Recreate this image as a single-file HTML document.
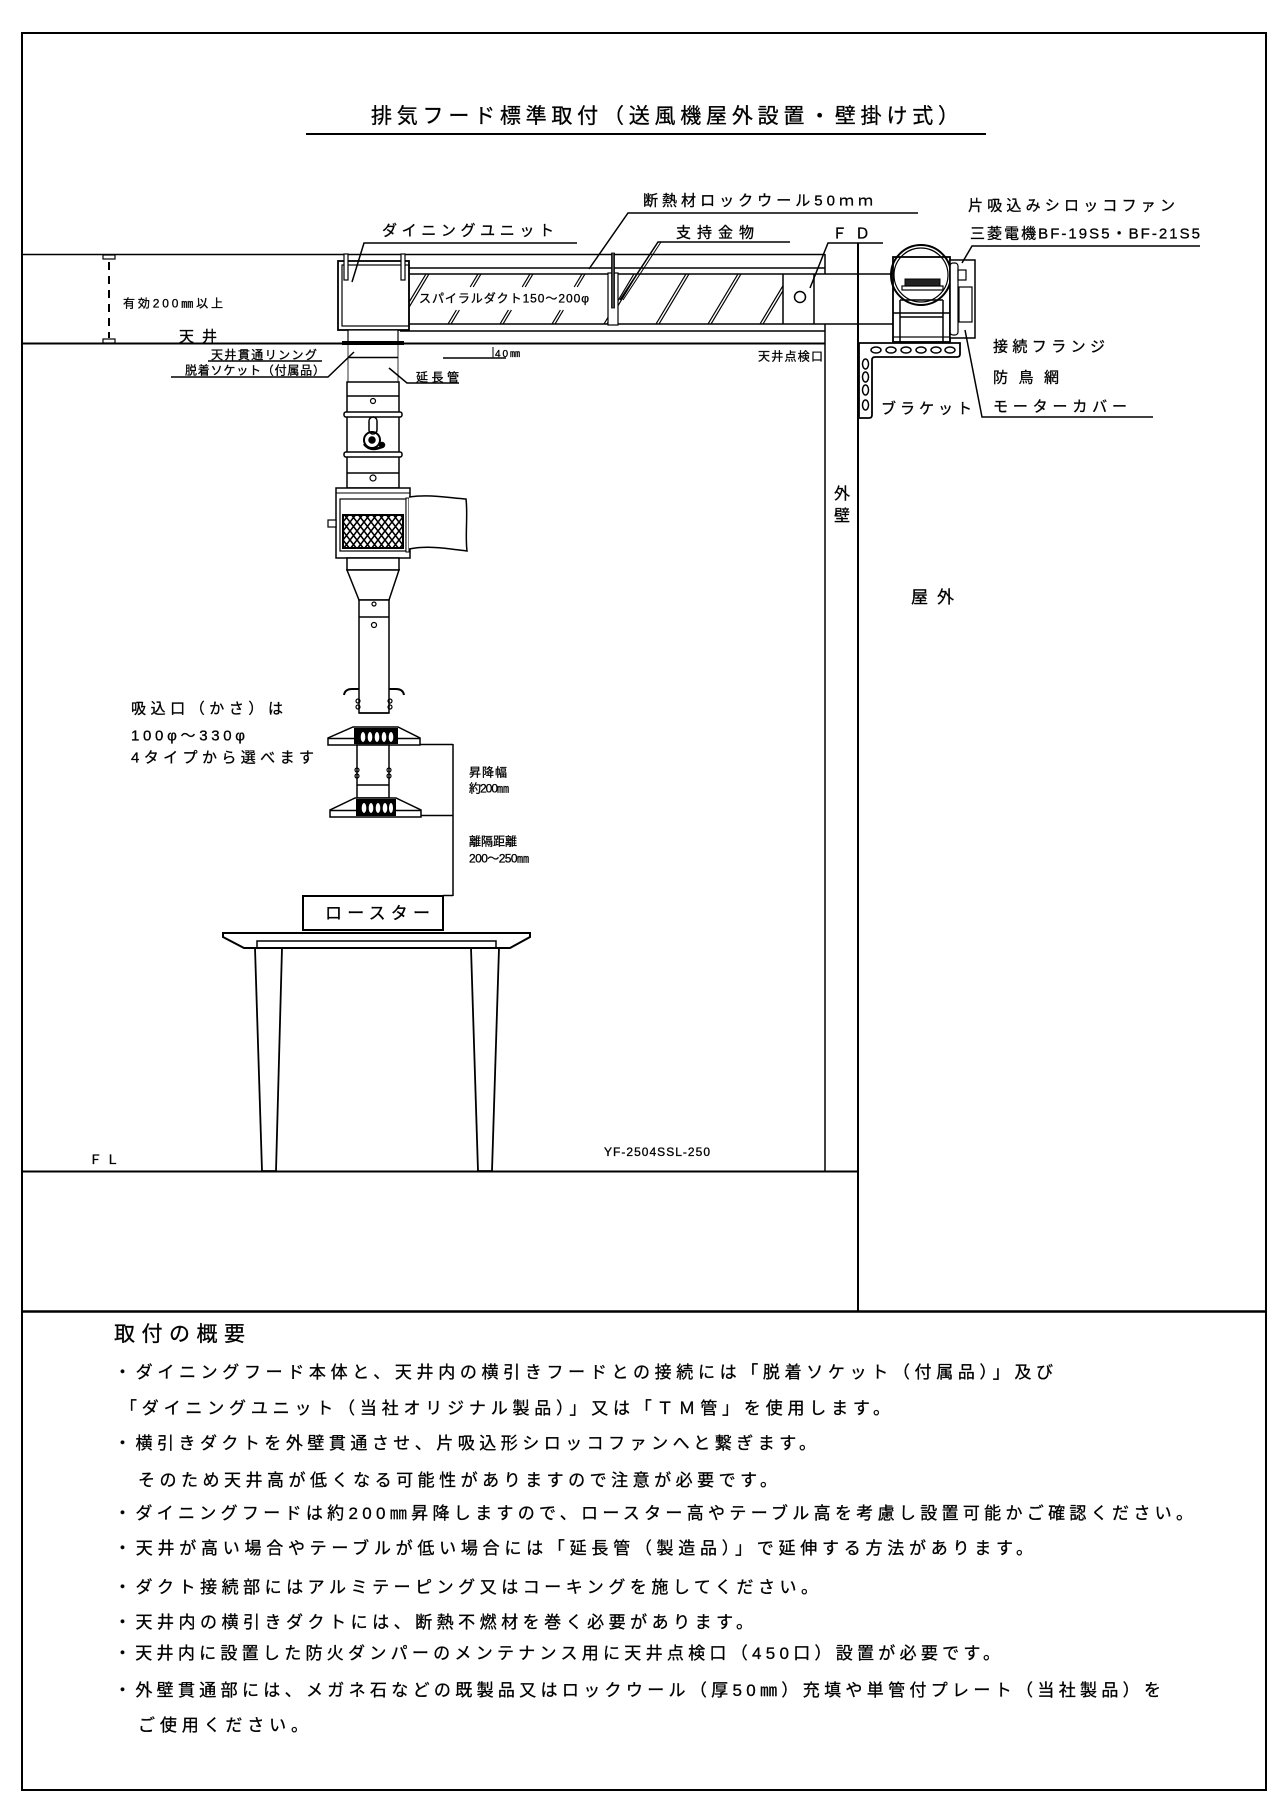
<!DOCTYPE html>
<html><head><meta charset="utf-8"><style>
html,body{margin:0;padding:0;background:#fff;}
svg{display:block;}
text{font-family:"Liberation Sans","Noto Sans CJK JP",sans-serif;fill:#000;stroke:#000;stroke-width:0.3;}
</style></head><body>
<svg width="1280" height="1812" viewBox="0 0 1280 1812" xmlns="http://www.w3.org/2000/svg">
<defs>
<pattern id="mesh" width="7" height="9" patternUnits="userSpaceOnUse"><rect width="7" height="9" fill="#fff"/><path d="M0,0 L7,9 M7,0 L0,9 M-3.5,4.5 L0,9 M3.5,-4.5 L10.5,4.5 M0,-4.5 L-3.5,0" stroke="#000" stroke-width="1.6"/></pattern>
<clipPath id="duct"><rect x="409" y="274" width="374" height="50"/></clipPath>
</defs>
<rect width="1280" height="1812" fill="#fff"/>
<g stroke="#000" fill="none" stroke-width="1.5">
<!-- frame -->
<rect x="22" y="33" width="1244" height="1757" stroke-width="2"/>
<line x1="306" y1="134" x2="986" y2="134" stroke-width="2"/>
<!-- slab & ceiling -->
<line x1="22" y1="254.5" x2="825" y2="254.5"/>
<line x1="22" y1="343.5" x2="825" y2="343.5" stroke-width="2"/>
<line x1="109" y1="262" x2="109" y2="338" stroke-dasharray="8,6" stroke-width="2"/>
<rect x="103" y="255" width="12" height="4" stroke-width="1.2"/>
<rect x="103" y="339" width="12" height="4" stroke-width="1.2"/>
<!-- wall -->
<line x1="825" y1="254" x2="825" y2="274"/>
<line x1="825" y1="324" x2="825" y2="1171"/>
<line x1="858" y1="243" x2="858" y2="1311" stroke-width="2"/>
<!-- duct -->
<line x1="409" y1="268" x2="825" y2="268"/>
<line x1="409" y1="274" x2="893" y2="274"/>
<line x1="409" y1="324" x2="893" y2="324"/>
<line x1="400" y1="331" x2="825" y2="331"/>
<line x1="783" y1="274" x2="783" y2="324"/>
<line x1="814" y1="274" x2="814" y2="324"/>
<circle cx="800" cy="297" r="5.5"/>
<g clip-path="url(#duct)" stroke-width="1.2">
<line x1="396" y1="324" x2="426" y2="274"/><line x1="399" y1="324" x2="429" y2="274"/>
<line x1="656" y1="324" x2="686" y2="274"/><line x1="659" y1="324" x2="689" y2="274"/>
<line x1="708" y1="324" x2="738" y2="274"/><line x1="711" y1="324" x2="741" y2="274"/>
<line x1="760" y1="324" x2="790" y2="274"/><line x1="763" y1="324" x2="793" y2="274"/>
<line x1="604" y1="324" x2="634" y2="274"/><line x1="607" y1="324" x2="637" y2="274"/>
<line x1="448" y1="324" x2="456.4" y2="310"/><line x1="451" y1="324" x2="459.4" y2="310"/>
<line x1="470.2" y1="287" x2="478" y2="274"/><line x1="473.2" y1="287" x2="481" y2="274"/>
<line x1="500" y1="324" x2="508.4" y2="310"/><line x1="503" y1="324" x2="511.4" y2="310"/>
<line x1="522.2" y1="287" x2="530" y2="274"/><line x1="525.2" y1="287" x2="533" y2="274"/>
<line x1="552" y1="324" x2="560.4" y2="310"/><line x1="555" y1="324" x2="563.4" y2="310"/>
<line x1="574.2" y1="287" x2="582" y2="274"/><line x1="577.2" y1="287" x2="585" y2="274"/>
</g>
<!-- support -->
<rect x="608" y="273" width="10" height="52" fill="#fff" stroke-width="1.2"/>
<rect x="611.5" y="253" width="3" height="55" fill="#444" stroke-width="0.8"/>
<!-- dining unit -->
<rect x="338" y="261" width="71" height="69" fill="#fff" stroke-width="1.8"/>
<rect x="342" y="265" width="67" height="61" stroke-width="1.2"/>
<rect x="344" y="254" width="4" height="26" fill="#fff" stroke-width="1.2"/>
<rect x="401" y="254" width="4" height="26" fill="#fff" stroke-width="1.2"/>
<rect x="348" y="330" width="50" height="12" fill="#fff" stroke-width="1.2"/>
<rect x="342" y="341" width="62" height="4" fill="#000" stroke-width="0"/>
<!-- column -->
<line x1="348" y1="345" x2="348" y2="382" stroke-width="0.8"/>
<line x1="398" y1="345" x2="398" y2="382" stroke-width="0.8"/>
<line x1="348" y1="357.5" x2="398" y2="357.5"/>
<rect x="347" y="382" width="52" height="106" fill="#fff"/>
<line x1="347" y1="396" x2="399" y2="396"/>
<circle cx="373" cy="401" r="2.5" stroke-width="1.2"/>
<rect x="344" y="412" width="58" height="5" rx="2" fill="#fff"/>
<rect x="344" y="452" width="58" height="5" rx="2" fill="#fff"/>
<line x1="347" y1="473" x2="399" y2="473"/>
<circle cx="373" cy="478" r="3" stroke-width="1.2"/>
<rect x="369" y="417" width="8" height="17" rx="4" stroke-width="1.5"/>
<circle cx="372" cy="440" r="8" stroke-width="2"/>
<circle cx="372" cy="440" r="3" fill="#000"/>
<path d="M364,444 Q370,452 382,447" stroke-width="2.5"/>
<circle cx="382" cy="445" r="2.5" fill="#000"/>
<!-- filter box -->
<rect x="336" y="488" width="74" height="70" fill="#fff"/>
<line x1="336" y1="493" x2="410" y2="493" stroke-width="1"/>
<rect x="340" y="499" width="66" height="52" stroke-width="1.2"/>
<rect x="343" y="515" width="60" height="33" fill="url(#mesh)" stroke-width="2"/>
<rect x="406" y="498" width="3" height="54" fill="#fff" stroke-width="1"/>
<rect x="328" y="520" width="8" height="7" fill="#fff" stroke-width="1.2"/>
<path d="M409,497 C430,494 450,498 466,499 C468,515 465,535 467,551 C450,549 430,545 409,549" fill="#fff"/>
<!-- lower pipe -->
<rect x="347" y="558" width="52" height="12" fill="#fff"/>
<path d="M347,570 L399,570 L389,600 L359,600 Z" fill="#fff"/>
<rect x="359" y="600" width="30" height="113" fill="#fff"/>
<line x1="359" y1="617" x2="389" y2="617"/>
<circle cx="374" cy="604" r="2" stroke-width="1.2"/>
<circle cx="374" cy="625" r="2.5" stroke-width="1.2"/>
<path d="M344,695 Q345,689 352,689 L359,689" stroke-width="2"/>
<path d="M389,689 L396,689 Q403,689 404,695" stroke-width="2"/>
<circle cx="358" cy="701" r="2" stroke-width="1.2"/><circle cx="358" cy="707" r="2" stroke-width="1.2"/>
<circle cx="390" cy="701" r="2" stroke-width="1.2"/><circle cx="390" cy="707" r="2" stroke-width="1.2"/>
<line x1="359" y1="713" x2="389" y2="713"/>
<!-- hood 1 -->
<path d="M353,727 L398,727 L420,738 L420,745 L328,745 L328,738 Z" fill="#fff"/>
<line x1="328" y1="738.5" x2="420" y2="738.5"/>
<rect x="354" y="728" width="44" height="16" fill="#000" stroke-width="0"/>
<g fill="#fff" stroke-width="0"><ellipse cx="363" cy="737" rx="2.3" ry="5"/><ellipse cx="370" cy="737" rx="2.3" ry="5"/><ellipse cx="377" cy="737" rx="2.3" ry="5"/><ellipse cx="384" cy="737" rx="2.3" ry="5"/><ellipse cx="391" cy="737" rx="2.3" ry="5"/></g>
<!-- pipe 2 -->
<rect x="357" y="745" width="32" height="53" fill="#fff"/>
<line x1="357" y1="785" x2="389" y2="785"/>
<circle cx="357" cy="770" r="2" stroke-width="1.2"/><circle cx="357" cy="776" r="2" stroke-width="1.2"/>
<circle cx="389" cy="770" r="2" stroke-width="1.2"/><circle cx="389" cy="776" r="2" stroke-width="1.2"/>
<!-- hood 2 -->
<path d="M355,798 L396,798 L421,810 L421,817 L330,817 L330,810 Z" fill="#fff"/>
<line x1="330" y1="810.5" x2="421" y2="810.5"/>
<rect x="356" y="799" width="40" height="17" fill="#000" stroke-width="0"/>
<g fill="#fff" stroke-width="0"><ellipse cx="364" cy="808" rx="2.3" ry="5"/><ellipse cx="371" cy="808" rx="2.3" ry="5"/><ellipse cx="378" cy="808" rx="2.3" ry="5"/><ellipse cx="385" cy="808" rx="2.3" ry="5"/><ellipse cx="391" cy="808" rx="2" ry="5"/></g>
<!-- dimension -->
<line x1="420" y1="744.5" x2="453" y2="744.5"/>
<line x1="421" y1="815.5" x2="453" y2="815.5"/>
<line x1="453" y1="744" x2="453" y2="896"/>
<line x1="443" y1="895.5" x2="453" y2="895.5"/>
<!-- roaster & table -->
<rect x="303" y="896" width="140" height="34" stroke-width="2"/>
<path d="M223,933 L530,933 L530,937 L510,948 L244,948 L223,937 Z" stroke-width="2"/>
<rect x="257" y="941" width="239" height="7" stroke-width="1.5"/>
<path d="M255,948 L282,948 L276,1171 L262,1171 Z" stroke-width="1.8"/>
<path d="M471,948 L499,948 L492,1171 L478,1171 Z" stroke-width="1.8"/>
<line x1="22" y1="1171.5" x2="858" y2="1171.5" stroke-width="2"/>
<line x1="22" y1="1311.5" x2="1266" y2="1311.5" stroke-width="2.5"/>
<!-- bracket -->
<path d="M859,343 L960,343 L960,354 Q960,357 957,357 L875,357 Q872,357 872,360 L872,415 Q872,418 869,418 L859,418 Z" fill="#fff" stroke-width="1.8"/>
<g stroke-width="1.5"><ellipse cx="876" cy="350" rx="5" ry="3"/><ellipse cx="891" cy="350" rx="5" ry="3"/><ellipse cx="906" cy="350" rx="5" ry="3"/><ellipse cx="921" cy="350" rx="5" ry="3"/><ellipse cx="936" cy="350" rx="5" ry="3"/><ellipse cx="950" cy="350" rx="5" ry="3"/>
<ellipse cx="865.5" cy="364" rx="3" ry="5"/><ellipse cx="865.5" cy="377" rx="3" ry="5"/><ellipse cx="865.5" cy="390" rx="3" ry="5"/><ellipse cx="865.5" cy="405" rx="3" ry="5"/></g>
<!-- fan -->
<rect x="893" y="257" width="57" height="85" fill="#fff" stroke-width="1.8"/>
<line x1="900" y1="300" x2="900" y2="342"/>
<line x1="943" y1="300" x2="943" y2="342"/>
<line x1="893" y1="313" x2="950" y2="313"/>
<line x1="900" y1="317" x2="943" y2="317"/>
<line x1="900" y1="300" x2="943" y2="300"/>
<rect x="893" y="337" width="57" height="5" stroke-width="1.2"/>
<circle cx="921" cy="275" r="30" stroke-width="2"/>
<circle cx="921" cy="275" r="27" stroke-width="1.2"/>
<rect x="905" y="279" width="35" height="7" fill="#222" stroke-width="1"/>
<rect x="902" y="286" width="41" height="4" fill="#fff" stroke-width="1.2"/>
<rect x="950" y="260" width="25" height="78" fill="#fff" stroke-width="1.5"/>
<rect x="950" y="263" width="8" height="72" rx="3" stroke-width="1.2"/>
<rect x="958" y="270" width="8" height="10" stroke-width="1.2"/>
<rect x="959" y="287" width="13" height="35" stroke-width="1.2"/>
<!-- leaders -->
<g stroke-width="1.5">
<polyline points="577,243 364,243 352,282"/>
<polyline points="918,213 628,213 589,269"/>
<polyline points="790,242 658,242 620,300"/>
<line x1="661" y1="242" x2="623" y2="300" stroke-width="1"/>
<polyline points="883,243 828,243 810,288"/>
<polyline points="1200,246 972,246 962,263"/>
<polyline points="965,330 982,417 1153,417"/>
<polyline points="459,383 407,383 389,368"/>
<polyline points="171,377 328,377 354,352"/>
<line x1="208" y1="361" x2="322" y2="361"/>
<line x1="493" y1="347" x2="493" y2="358" stroke-width="1"/>
<line x1="443" y1="358" x2="506" y2="358"/>
</g>
</g>
<!-- texts -->
<text x="371" y="123" font-size="21" textLength="588">排気フード標準取付（送風機屋外設置・壁掛け式）</text>
<text x="643" y="205.5" font-size="15" textLength="230">断熱材ロックウール50ｍｍ</text>
<text x="382" y="235.5" font-size="15" textLength="172">ダイニングユニット</text>
<text x="676" y="237.5" font-size="15" textLength="78">支持金物</text>
<text x="832" y="238.5" font-size="15" textLength="38">ＦＤ</text>
<text x="968" y="210.5" font-size="15" textLength="207">片吸込みシロッコファン</text>
<text x="970" y="238.5" font-size="15" textLength="230">三菱電機BF-19S5・BF-21S5</text>
<text x="993" y="351.5" font-size="15" textLength="112">接続フランジ</text>
<text x="993" y="382.5" font-size="15" textLength="66">防鳥網</text>
<text x="993" y="411.5" font-size="15" textLength="134">モーターカバー</text>
<text x="881" y="413.5" font-size="15" textLength="91">ブラケット</text>
<text x="842" y="499" font-size="16" text-anchor="middle">外</text>
<text x="842" y="521" font-size="16" text-anchor="middle">壁</text>
<text x="911" y="603" font-size="17" textLength="43">屋外</text>
<text x="758" y="360.5" font-size="12" textLength="65">天井点検口</text>
<text x="123" y="307.5" font-size="12" textLength="100">有効200㎜以上</text>
<text x="179" y="341.5" font-size="15" textLength="38">天井</text>
<text x="211" y="359" font-size="12" textLength="106">天井貫通リンング</text>
<text x="185" y="374.5" font-size="12" textLength="140">脱着ソケット（付属品）</text>
<text x="416" y="381.5" font-size="12" textLength="43">延長管</text>
<text x="495" y="357" font-size="10" textLength="25">40㎜</text>
<text x="419" y="302.5" font-size="12" textLength="170">スパイラルダクト150～200φ</text>
<text x="131" y="713.5" font-size="15" textLength="152">吸込口（かさ）は</text>
<text x="131" y="740.5" font-size="15" textLength="114">100φ～330φ</text>
<text x="131" y="762.5" font-size="15" textLength="183">4タイプから選べます</text>
<text x="469" y="776.5" font-size="12" textLength="38">昇降幅</text>
<text x="469" y="792.5" font-size="12" textLength="40">約200㎜</text>
<text x="469" y="845.5" font-size="12" textLength="48">離隔距離</text>
<text x="469" y="862.5" font-size="12" textLength="60">200～250㎜</text>
<text x="325" y="919" font-size="17" textLength="105">ロースター</text>
<text x="89" y="1164" font-size="13" textLength="30">ＦＬ</text>
<text x="604" y="1156" font-size="12" textLength="106">YF-2504SSL-250</text>
<text x="114" y="1341" font-size="21" textLength="131">取付の概要</text>
<text x="114" y="1378" font-size="17" textLength="939">・ダイニングフード本体と、天井内の横引きフードとの接続には「脱着ソケット（付属品）」及び</text>
<text x="120" y="1414" font-size="17" textLength="770">「ダイニングユニット（当社オリジナル製品）」又は「ＴＭ管」を使用します。</text>
<text x="114" y="1449" font-size="17" textLength="702">・横引きダクトを外壁貫通させ、片吸込形シロッコファンへと繋ぎます。</text>
<text x="138" y="1486" font-size="17" textLength="639">そのため天井高が低くなる可能性がありますので注意が必要です。</text>
<text x="114" y="1519" font-size="17" textLength="1079">・ダイニングフードは約200㎜昇降しますので、ロースター高やテーブル高を考慮し設置可能かご確認ください。</text>
<text x="114" y="1554" font-size="17" textLength="919">・天井が高い場合やテーブルが低い場合には「延長管（製造品）」で延伸する方法があります。</text>
<text x="114" y="1593" font-size="17" textLength="704">・ダクト接続部にはアルミテーピング又はコーキングを施してください。</text>
<text x="114" y="1628" font-size="17" textLength="639">・天井内の横引きダクトには、断熱不燃材を巻く必要があります。</text>
<text x="114" y="1659" font-size="17" textLength="886">・天井内に設置した防火ダンパーのメンテナンス用に天井点検口（450口）設置が必要です。</text>
<text x="114" y="1696" font-size="17" textLength="1047">・外壁貫通部には、メガネ石などの既製品又はロックウール（厚50㎜）充填や単管付プレート（当社製品）を</text>
<text x="138" y="1731" font-size="17" textLength="170">ご使用ください。</text>
</svg>
</body></html>
